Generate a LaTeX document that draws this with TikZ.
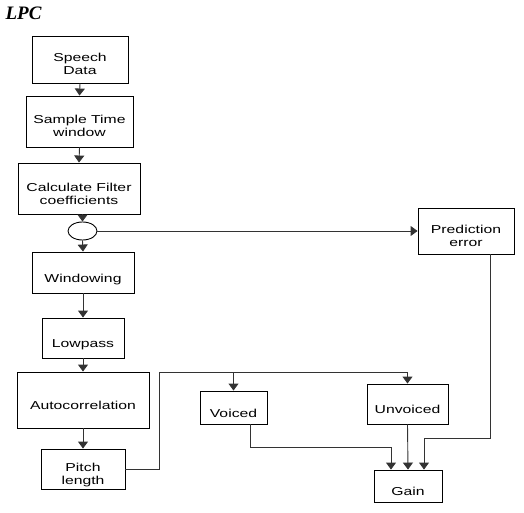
\documentclass[tikz,border=0pt]{standalone}
\usepackage{fontspec}
\setmainfont{Liberation Sans}[FakeStretch=1.37]
\newfontfamily\lpcfont{Liberation Serif}
\usetikzlibrary{shapes.geometric,arrows.meta}
\begin{document}
\begin{tikzpicture}[x=1pt,y=-1pt]

	%DEFINICIONES
	\tikzstyle{every node}=[font=\fontsize{11.5}{13}\selectfont]
	\tikzstyle{block} = [draw, align=center, line width=0.9pt, inner sep=0pt, text depth=0pt, text height=19pt]
	\tikzstyle{doble} = [text height=31pt]
	\tikzstyle{union} = [draw, ellipse, line width=0.9pt, minimum width=29pt, minimum height=18pt, inner sep=0pt]
	\tikzstyle{flecha} = [-{Triangle[length=7pt,width=10pt]}, line width=0.9pt, draw=black!80]
	\tikzstyle{titulo} = [font=\lpcfont\fontsize{19}{19}\selectfont\bfseries\itshape, inner sep=0pt]

	\useasboundingbox (0,0) rectangle (524,513);

	%TITULO
	\draw(23.5,13.5) node[titulo](t){LPC};

	%BLOQUES
	\draw(80,59.5) node[block, doble, minimum width=96pt, minimum height=47pt](1){Speech\\Data};
	\draw(79.5,121.5) node[block, doble, minimum width=107pt, minimum height=51pt](2){Sample Time\\window};
	\draw(79,188.5) node[block, doble, minimum width=122pt, minimum height=51pt](3){Calculate Filter\\coefficients};
	\draw(82.5,231) node[union](e){};
	\draw(83,272.5) node[block, minimum width=102pt, minimum height=41pt](4){Windowing};
	\draw(83,338) node[block, minimum width=82pt, minimum height=40pt](5){Lowpass};
	\draw(83,400) node[block, minimum width=132pt, minimum height=56pt](6){Autocorrelation};
	\draw(83,469) node[block, doble, minimum width=84pt, minimum height=40pt](7){Pitch\\length};
	\draw(466,231) node[block, doble, minimum width=96pt, minimum height=46pt](pe){Prediction\\error};
	\draw(233.5,407.5) node[block, minimum width=67pt, minimum height=33pt](8){Voiced};
	\draw(407.5,404) node[block, minimum width=81pt, minimum height=40pt](9){Unvoiced};
	\draw(408,486) node[block, minimum width=68pt, minimum height=32pt](10){Gain};

	\coordinate (rama) at (159,372);

	%FLECHAS
	\draw [flecha] (1.south) -- (2.north);
	\draw [flecha] (2.south) -- (3.north);
	\draw [flecha] (e.north |- 3.south) -- (e.north);
	\draw [flecha] (e.south) -- (4.north);
	\draw [flecha] (e.east) -- (pe.west |- e.east);
	\draw [flecha] (4.south) -- (5.north);
	\draw [flecha] (5.south) -- (6.north);
	\draw [flecha] (6.south) -- (7.north);

	\draw [flecha] (7.east) -| (rama) -| (9.north);
	\draw [flecha] (8.north |- rama) -- (8.north);

	\draw [flecha] ([xshift=16.5pt]8.south) -- ++(0,23) -| ([xshift=-17pt]10.north);
	\draw [flecha] (9.south) -- (10.north);
	\draw [flecha] ([xshift=24pt]pe.south) -- ++(0,184) -| ([xshift=16pt]10.north);
\end{tikzpicture}
\end{document}
